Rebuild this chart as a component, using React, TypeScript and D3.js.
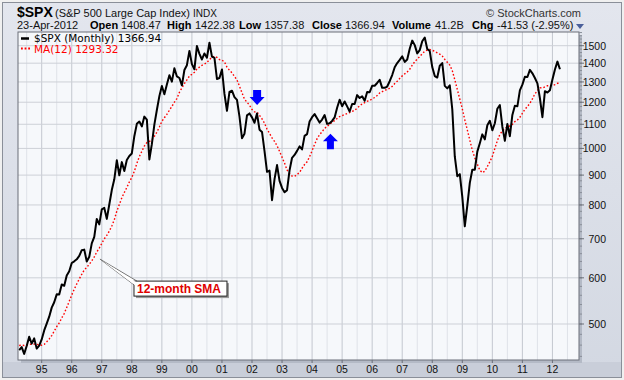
import React from "react";
import * as d3 from "d3";

// Monthly closes of $SPX, May 1993 .. Apr 2012
const firstMonth = { year: 1993, month: 4 }; // May 1993 (0-based month)
const closes1993 = [450.2, 450.5, 448.1, 463.6, 458.9, 467.8, 461.8, 466.5];
const closes1994 = [481.6, 467.1, 445.8, 450.9, 456.5, 444.3, 458.3, 475.5, 462.7, 472.4, 453.7, 459.3];
const closes1995 = [470.4, 487.4, 500.7, 514.7, 533.4, 544.8, 562.1, 561.9, 584.4, 581.5, 605.4, 615.9];
const closes1996 = [636.0, 640.4, 645.5, 654.2, 669.1, 670.6, 639.9, 652.0, 687.3, 705.3, 757.0, 740.7];
const closes1997 = [786.2, 790.8, 757.1, 801.3, 848.3, 885.1, 954.3, 899.5, 947.3, 914.6, 955.4, 970.4];
const closes1998 = [980.3, 1049.3, 1101.8, 1111.8, 1090.8, 1133.8, 1120.7, 957.3, 1017.0, 1098.7, 1163.6, 1229.2];
const closes1999 = [1279.6, 1238.3, 1286.4, 1335.2, 1301.8, 1372.7, 1328.7, 1320.4, 1282.7, 1362.9, 1388.9, 1469.3];
const closes2000 = [1394.5, 1366.4, 1498.6, 1452.4, 1420.6, 1454.6, 1430.8, 1517.7, 1436.5, 1429.4, 1315.2, 1320.3];
const closes2001 = [1366.0, 1239.9, 1160.3, 1249.5, 1255.8, 1224.4, 1211.2, 1133.6, 1040.9, 1059.8, 1139.5, 1148.1];
const closes2002 = [1130.2, 1106.7, 1147.4, 1076.9, 1067.1, 989.8, 911.6, 916.1, 815.3, 885.8, 936.3, 879.8];
const closes2003 = [855.7, 841.2, 848.2, 916.9, 963.6, 974.5, 990.3, 1008.0, 996.0, 1050.7, 1058.2, 1111.9];
const closes2004 = [1131.1, 1144.9, 1126.2, 1107.3, 1120.7, 1140.8, 1101.7, 1104.2, 1114.6, 1130.2, 1173.8, 1211.9];
const closes2005 = [1181.3, 1203.6, 1180.6, 1156.9, 1191.5, 1191.3, 1234.2, 1220.3, 1228.8, 1207.0, 1249.5, 1248.3];
const closes2006 = [1280.1, 1280.7, 1294.8, 1310.6, 1270.1, 1270.2, 1276.7, 1303.8, 1335.9, 1377.9, 1400.6, 1418.3];
const closes2007 = [1438.2, 1406.8, 1420.9, 1482.4, 1530.6, 1503.4, 1455.3, 1474.0, 1526.8, 1549.4, 1481.1, 1468.4];
const closes2008 = [1378.6, 1330.6, 1322.7, 1385.6, 1400.4, 1280.0, 1267.4, 1282.8, 1166.4, 968.8, 896.2, 903.3];
const closes2009 = [825.9, 735.1, 797.9, 872.8, 919.1, 919.3, 987.5, 1020.6, 1057.1, 1036.2, 1095.6, 1115.1];
const closes2010 = [1073.9, 1104.5, 1169.4, 1186.7, 1089.4, 1030.7, 1101.6, 1049.3, 1141.2, 1183.3, 1180.6, 1257.6];
const closes2011 = [1286.1, 1327.2, 1325.8, 1363.6, 1345.2, 1320.6, 1292.3, 1219.0, 1131.4, 1253.3, 1247.0, 1257.6];
const closes2012 = [1312.4, 1365.7, 1408.5, 1366.94];

const maPeriod = 12;
const yTicks = [500, 600, 700, 800, 900, 1000, 1100, 1200, 1300, 1400, 1500];
const yearTicks = [1995, 1996, 1997, 1998, 1999, 2000, 2001, 2002, 2003, 2004, 2005, 2006, 2007, 2008, 2009, 2010, 2011, 2012];
const yearLabels = ["95", "96", "97", "98", "99", "00", "01", "02", "03", "04", "05", "06", "07", "08", "09", "10", "11", "12"];

// header / legend texts
const legendPrice = "$SPX (Monthly) 1366.94";
const legendMa = "MA(12) 1293.32";
const quoteLabels = ["Open", "High", "Low", "Close", "Volume", "Chg"];
const quoteValues = ["1408.47", "1422.38", "1357.38", "1366.94", "41.2B", "-41.53 (-2.95%)"];

// annotations (date, value)
const downArrow = { date: 2002.17, value: 1187 };
const upArrow = { date: 2004.61, value: 1058 };
const callout = { date: 1996.94, value: 646, text: "12-month SMA" };

const W = 624, H = 380;
const plot = { left: 18, right: 579, top: 32, bottom: 360 };

export default function App() {
  const all = [
    ...closes1993, ...closes1994, ...closes1995, ...closes1996, ...closes1997,
    ...closes1998, ...closes1999, ...closes2000, ...closes2001, ...closes2002,
    ...closes2003, ...closes2004, ...closes2005, ...closes2006, ...closes2007,
    ...closes2008, ...closes2009, ...closes2010, ...closes2011, ...closes2012,
  ];
  const pts = all.map((v, i) => ({ date: firstMonth.year + (firstMonth.month + i) / 12, value: v, i }));
  const shown = pts.filter((p) => p.i >= maPeriod - 1);
  const ma = shown.map((p) => ({
    date: p.date,
    value: d3.mean(all.slice(p.i - maPeriod + 1, p.i + 1)) as number,
  }));

  const x = d3.scaleLinear().domain([1995, 2009]).range([41.7, 462.3]);
  const y = d3.scaleLog().domain([500, 1500]).range([324, 45.7]);

  const dMin = x.invert(plot.left), dMax = x.invert(plot.right);
  const vMin = y.invert(plot.bottom), vMax = y.invert(plot.top);

  const line = d3.line<{ date: number; value: number }>().x((d) => x(d.date)).y((d) => y(d.value));

  const halfYears: number[] = [];
  for (let t = Math.ceil(dMin * 2) / 2; t <= dMax; t += 0.5) halfYears.push(t);
  const minorTicks: number[] = [];
  for (let v = Math.ceil(vMin / 20) * 20; v <= vMax; v += 20) minorTicks.push(v);

  const font = "'Liberation Sans', Arial, sans-serif";
  const legFont = "'DejaVu Sans', Verdana, sans-serif";

  const da = { x: x(downArrow.date), y: y(downArrow.value) };
  const ua = { x: x(upArrow.date), y: y(upArrow.value) };
  const co = { x: x(callout.date), y: y(callout.value) };

  const labelX = [90, 167, 239, 312, 392, 472];
  const valueX = [121, 195, 264.5, 345, 435, 497];

  return (
    <svg width={W} height={H} style={{ position: "absolute", left: 0, top: 0 }} fontFamily={font}>
      <defs>
        <linearGradient id="bg" x1="0" y1="0" x2="0" y2="1">
          <stop offset="0" stopColor="#e3e6ee" />
          <stop offset="1" stopColor="#d3d8e2" />
        </linearGradient>
      </defs>
      <rect x={0} y={0} width={W} height={H} fill="#f0f0f0" />
      <rect x={2.5} y={2.5} width={W - 5} height={H - 5} fill="url(#bg)" stroke="#8a8f99" />
      <rect x={3} y={plot.bottom + 2} width={W - 6} height={H - plot.bottom - 5} fill="#c9ced9" />

      {/* plot shadow */}
      <rect x={plot.left + 3} y={plot.top + 3} width={plot.right - plot.left} height={plot.bottom - plot.top} fill="#b4bac6" />
      <rect x={plot.left} y={plot.top} width={plot.right - plot.left} height={plot.bottom - plot.top} fill="#f6f8fb" />

      {/* grid */}
      {halfYears.map((t) => {
        const major = Math.abs(t - Math.round(t)) < 1e-6;
        return (
          <line key={"v" + t} x1={x(t)} x2={x(t)} y1={plot.top} y2={plot.bottom}
            stroke={major ? "#c3c7cf" : "#dfe2e8"} strokeWidth={1} />
        );
      })}
      {yTicks.map((v) => (
        <line key={"h" + v} x1={plot.left} x2={plot.right} y1={y(v)} y2={y(v)} stroke="#cdd0d7" />
      ))}

      {/* MA */}
      <path d={line(ma) || ""} fill="none" stroke="#ff0000" strokeWidth={1.4} strokeDasharray="1.6,2" />
      {/* price */}
      <path d={line(shown) || ""} fill="none" stroke="#000" strokeWidth={2} strokeLinejoin="round" />

      {/* plot border */}
      <rect x={plot.left} y={plot.top} width={plot.right - plot.left} height={plot.bottom - plot.top} fill="none" stroke="#6b6f78" />

      {/* right axis */}
      {minorTicks.map((v) => (
        <line key={"m" + v} x1={plot.right} x2={plot.right + 3} y1={y(v)} y2={y(v)} stroke="#8a8f99" />
      ))}
      {yTicks.map((v) => (
        <g key={"yt" + v}>
          <line x1={plot.right} x2={plot.right + 5} y1={y(v)} y2={y(v)} stroke="#6b6f78" />
          <text x={606} y={y(v) + 4} fontSize={10.5} textAnchor="end" fill="#111">{v}</text>
        </g>
      ))}

      {/* bottom axis */}
      {yearTicks.map((t, i) => (
        <g key={"xt" + t}>
          <line x1={x(t)} x2={x(t)} y1={plot.bottom} y2={plot.bottom + 3} stroke="#6b6f78" />
          <text x={x(t)} y={373} fontSize={10.5} textAnchor="middle" fill="#111">{yearLabels[i]}</text>
        </g>
      ))}

      {/* legend */}
      <line x1={21} x2={29} y1={38.5} y2={38.5} stroke="#000" strokeWidth={2.5} />
      <text x={34} y={41.5} fontSize={10.5} fontFamily={legFont} fill="#000">{legendPrice}</text>
      <line x1={21} x2={31} y1={48.5} y2={48.5} stroke="#ff0000" strokeWidth={1.8} strokeDasharray="1.8,1.8" />
      <text x={34} y={52.5} fontSize={10.5} fontFamily={legFont} fill="#ff0000">{legendMa}</text>

      {/* arrows */}
      <path d={`M${da.x - 4},${da.y - 15} h8 v7 h3.5 l-7.5,8 l-7.5,-8 h3.5 z`} fill="#0000ff" />
      <path d={`M${ua.x - 3.5},${ua.y + 15} h7 v-8 h4 l-7.5,-7.5 l-7.5,7.5 h4 z`} fill="#0000ff" />

      {/* callout */}
      <rect x={co.x + 36} y={co.y + 24} width={93} height={15} fill="#9a9a9a" />
      <path d={`M${co.x},${co.y} L${co.x + 37},${co.y + 22} L${co.x + 37},${co.y + 28} Z`} fill="#fff" stroke="#777" strokeWidth={1} />
      <rect x={co.x + 34} y={co.y + 22} width={93} height={15} fill="#fff" stroke="#222" />
      <path d={`M${co.x + 2},${co.y + 1.5} L${co.x + 36},${co.y + 23} L${co.x + 36},${co.y + 27} Z`} fill="#fff" />
      <text x={co.x + 37} y={co.y + 34} fontSize={12} fontWeight="bold" fill="#e00000">{callout.text}</text>

      {/* header */}
      <text x={17} y={17} fontSize={14} fontWeight="bold" fill="#000">$SPX</text>
      <text x={55} y={17} fontSize={11} fill="#111">(S&amp;P 500 Large Cap Index)</text>
      <text x={193} y={17} fontSize={10} fill="#111">INDX</text>
      <text x={581} y={17} fontSize={11} textAnchor="end" fill="#333">© StockCharts.com</text>
      <text x={17} y={28.5} fontSize={11} fill="#111">23-Apr-2012</text>
      {quoteLabels.map((l, i) => (
        <g key={l}>
          <text x={labelX[i]} y={28.5} fontSize={11} fontWeight="bold" fill="#000">{l}</text>
          <text x={valueX[i]} y={28.5} fontSize={11} fill="#111">{quoteValues[i]}</text>
        </g>
      ))}
      <path d="M576,24 h8 l-4,5 z" fill="#4a5f9a" />
    </svg>
  );
}
